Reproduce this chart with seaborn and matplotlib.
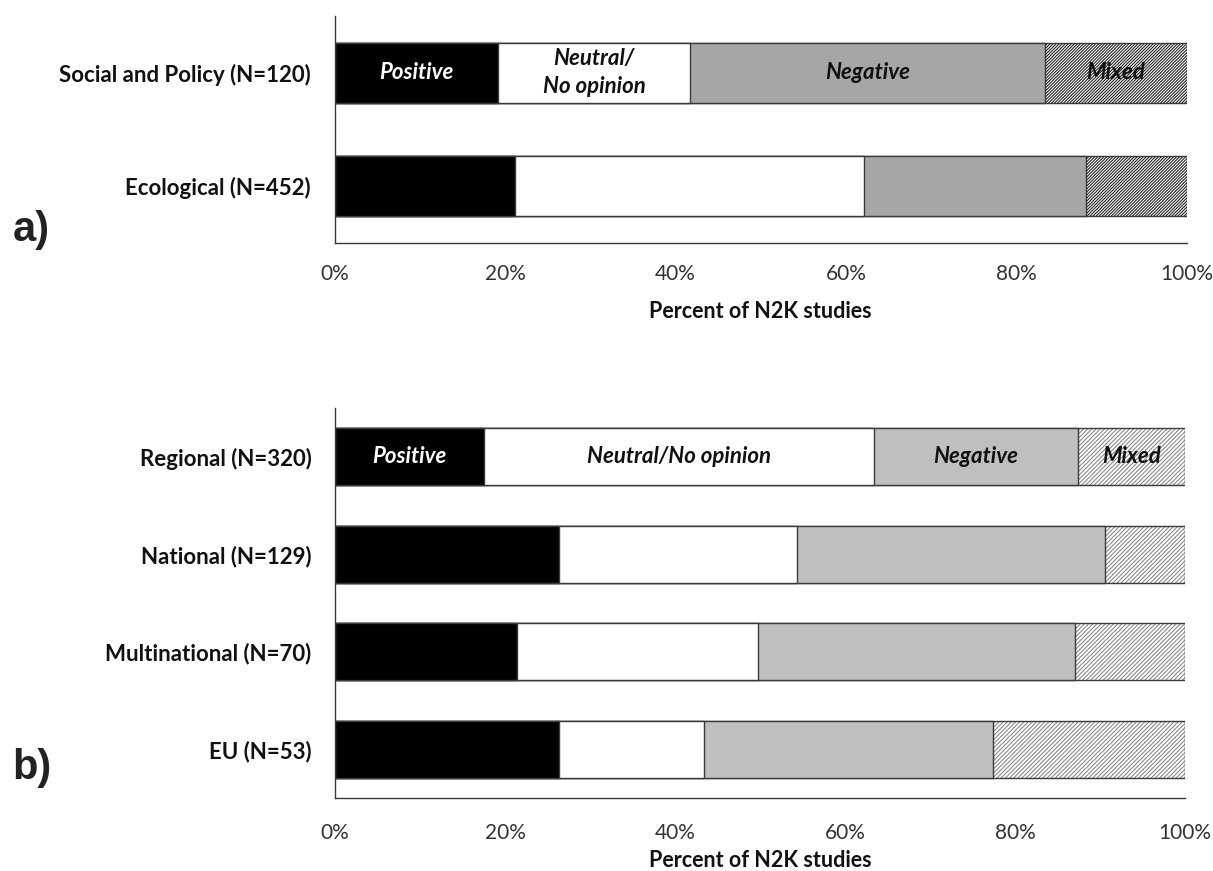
import numpy as np
import pandas as pd
import matplotlib
matplotlib.use("Agg")
import matplotlib.pyplot as plt
import seaborn as sns

# Share of Natura 2000 studies by outcome (percent of studies in each group)
segments = ["Positive", "Neutral/No opinion", "Negative", "Mixed"]

topic_labels = ["Social and Policy (N=120)", "Ecological (N=452)"]
topic_positive = [19.2, 21.2]
topic_neutral = [22.5, 40.9]
topic_negative = [41.7, 26.1]
topic_mixed = [16.6, 11.8]

scale_labels = ["Regional (N=320)", "National (N=129)", "Multinational (N=70)", "EU (N=53)"]
scale_positive = [17.5, 26.4, 21.4, 26.4]
scale_neutral = [45.9, 27.9, 28.4, 17.0]
scale_negative = [24.0, 36.3, 37.3, 34.0]
scale_mixed = [12.6, 9.4, 12.9, 22.6]

x_ticks = [0, 20, 40, 60, 80, 100]
x_tick_labels = ["0%", "20%", "40%", "60%", "80%", "100%"]
x_label = "Percent of N2K studies"

sns.set_style("white")
plt.rcParams["font.family"] = ["Lato", "DejaVu Sans"]
plt.rcParams["hatch.linewidth"] = 0.8

EDGE = "#3a3a3a"
TEXT = "#111111"

fig = plt.figure(figsize=(12.13, 8.71), dpi=100)
fig.patch.set_facecolor("white")
ax_a = fig.add_axes([0.2759, 0.7210, 0.7024, 0.2606])
ax_b = fig.add_axes([0.2762, 0.0838, 0.7007, 0.4478])


def stacked_bars(ax, labels, parts, neg_color, hatch, hatch_color, bar_w,
                 seg_text, text_size):
    parts = np.array(parts, dtype=float)
    cum = np.cumsum(parts, axis=0)
    df = pd.DataFrame({"group": labels})
    fills = ["black", "white", neg_color, "white"]

    # hatched "mixed" layer spanning the full stack
    df["value"] = cum[3]
    sns.barplot(data=df, x="value", y="group", orient="y", color="white",
                saturation=1, width=bar_w, ax=ax, edgecolor=hatch_color,
                linewidth=0, hatch=hatch, errorbar=None)
    # outline of the full stack
    n1 = len(ax.patches)
    sns.barplot(data=df, x="value", y="group", orient="y", color="white",
                saturation=1, width=bar_w, ax=ax, edgecolor=EDGE,
                linewidth=1.0, errorbar=None)
    for p in ax.patches[n1:]:
        p.set_facecolor("none")

    # remaining layers, drawn from the widest cumulative to the narrowest
    for i in (2, 1, 0):
        df["value"] = cum[i]
        sns.barplot(data=df, x="value", y="group", orient="y",
                    color=fills[i], saturation=1, width=bar_w, ax=ax,
                    edgecolor=EDGE, linewidth=1.0, errorbar=None)

    # segment names inside the first bar
    starts = np.vstack([np.zeros(parts.shape[1]), cum[:-1]])
    for i, txt in enumerate(seg_text):
        xc = starts[i, 0] + parts[i, 0] / 2
        ax.text(xc, 0, txt, ha="center", va="center", fontsize=text_size,
                fontweight="bold", fontstyle="italic",
                color="white" if i == 0 else TEXT, linespacing=1.4)

    n = len(labels)
    ax.set_xlim(0, 100)
    ax.set_ylim(n - 0.5, -0.5)
    ax.set_ylabel("")
    for s in ("top", "right"):
        ax.spines[s].set_visible(False)
    for s in ("left", "bottom"):
        ax.spines[s].set_color(EDGE)
        ax.spines[s].set_linewidth(1.0)
    ax.set_xticks(x_ticks)
    ax.set_xticklabels(x_tick_labels)
    ax.tick_params(axis="y", length=0, pad=17, labelsize=16, labelcolor=TEXT)
    for t in ax.get_yticklabels():
        t.set_fontweight("bold")
    ax.set_facecolor("white")


stacked_bars(ax_a, topic_labels,
             [topic_positive, topic_neutral, topic_negative, topic_mixed],
             "#a6a6a6", "///////////", "#262626", 0.53,
             ["Positive", "Neutral/\nNo opinion", "Negative", "Mixed"], 16)
stacked_bars(ax_b, scale_labels,
             [scale_positive, scale_neutral, scale_negative, scale_mixed],
             "#bfbfbf", "////////", "#8a8a8a", 0.58,
             ["Positive", "Neutral/No opinion", "Negative", "Mixed"], 16)

ax_a.tick_params(axis="x", direction="in", length=5, width=1.0, color=EDGE,
                 pad=15, labelsize=15, labelcolor="#333333")
ax_b.tick_params(axis="x", direction="in", length=5, width=1.0, color=EDGE,
                 pad=18, labelsize=15, labelcolor="#333333")
ax_a.set_xlabel(x_label, fontsize=15.5, fontweight="bold", color=TEXT,
                labelpad=12)
ax_b.set_xlabel(x_label, fontsize=15.5, fontweight="bold", color=TEXT,
                labelpad=5)

fig.text(0.026, 0.736, "a)", ha="center", va="center", fontsize=30,
         fontweight="bold", color="#222222",
         family=["Liberation Sans", "DejaVu Sans"])
fig.text(0.026, 0.118, "b)", ha="center", va="center", fontsize=30,
         fontweight="bold", color="#222222",
         family=["Liberation Sans", "DejaVu Sans"])

fig.savefig("out.png", dpi=100, facecolor="white")
